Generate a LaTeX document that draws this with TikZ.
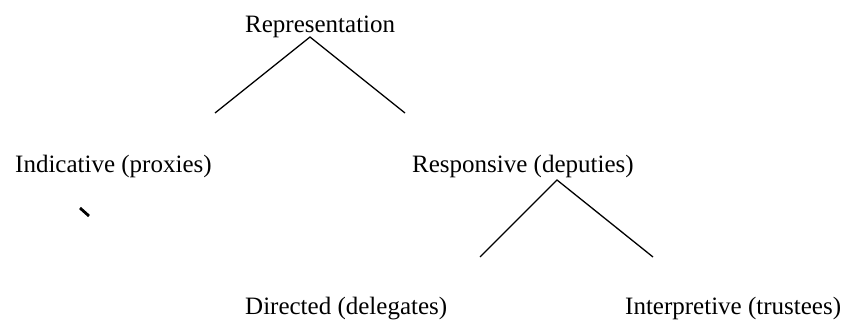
\documentclass[tikz,border=0pt]{standalone}
\usepackage{fontspec}
\setmainfont{Liberation Serif}
\begin{document}
\begin{tikzpicture}[x=1pt, y=-1pt,
      term/.style={anchor=base west, inner sep=0pt, font=\fontsize{25}{30}\selectfont},
      branch/.style={line width=1.3pt}
    ]
      \useasboundingbox (0,0) rectangle (843,320);

      \node[term] (rep) at (245,33) {Representation};
      \node[term] (ind) at (15,173) {Indicative (proxies)};
      \node[term] (resp) at (412,173) {Responsive (deputies)};
      \node[term] (dir) at (245,314) {Directed (delegates)};
      \node[term] (intp) at (625,314) {Interpretive (trustees)};

      \coordinate (repTop) at (310,37);
      \coordinate (repL) at (215,113);
      \coordinate (repR) at (405,113);
      \coordinate (respTop) at (557,180);
      \coordinate (respL) at (480,257);
      \coordinate (respR) at (653,257);

      \draw[branch] (repL) -- (repTop) -- (repR);
      \draw[branch] (respL) -- (respTop) -- (respR);

      \draw[line width=2.8pt] (80,208) -- (89,216);
    \end{tikzpicture}
\end{document}
